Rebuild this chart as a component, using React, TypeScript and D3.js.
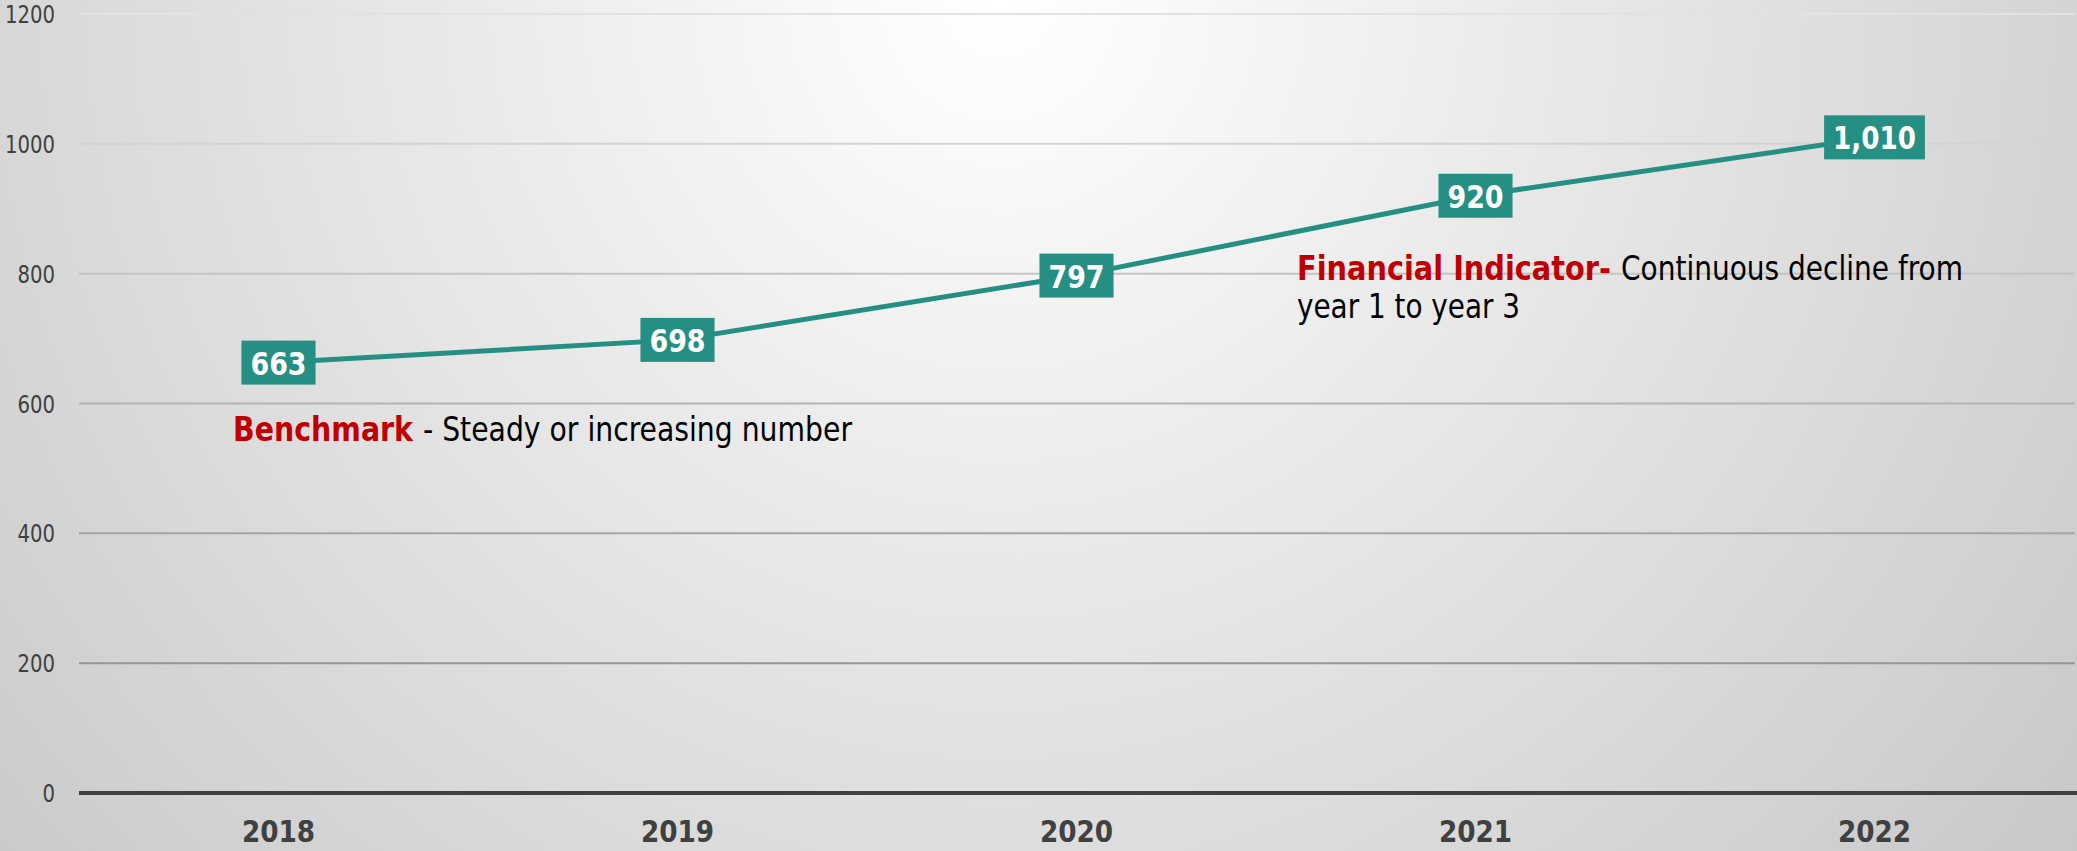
import { useEffect, useRef } from "react";
import * as d3 from "d3";

// chart values
const years = ["2018", "2019", "2020", "2021", "2022"];
const counts = [663, 698, 797, 920, 1010];
const yTicks = [0, 200, 400, 600, 800, 1000, 1200];

const TEAL = "#268f84";
const RED = "#c00000";
const FONT = "'DejaVu Sans Condensed', 'DejaVu Sans', sans-serif";

// rough Tahoma-like widths (px per glyph) to squeeze DejaVu into
const squeeze = (s: string, digit: number, comma: number) =>
    s.split("").reduce((acc, c) => acc + (c === "," ? comma : digit), 0);

export default function App() {
    const svgRef = useRef<SVGSVGElement | null>(null);

    const W = 2077;
    const H = 851;
    const margin = { top: 14, right: 3, bottom: 58, left: 79 };

    useEffect(() => {
        document.body.style.margin = "0";
        const svg = d3.select(svgRef.current);
        svg.selectAll("*").remove();

        // background
        const defs = svg.append("defs");
        const bg = defs.append("radialGradient")
            .attr("id", "bg")
            .attr("gradientUnits", "userSpaceOnUse")
            .attr("cx", 1000).attr("cy", 0).attr("r", 1420);
        bg.append("stop").attr("offset", "0%").attr("stop-color", "#ffffff");
        bg.append("stop").attr("offset", "100%").attr("stop-color", "#c6c6c6");
        svg.append("rect").attr("width", W).attr("height", H).attr("fill", "url(#bg)");

        const xScale = d3.scaleBand<string>()
            .domain(years)
            .range([margin.left, W - margin.right]);
        const yScale = d3.scaleLinear()
            .domain([0, 1200])
            .range([H - margin.bottom, margin.top]);

        // gridlines get darker toward the bottom
        const gridColor = d3.scaleLinear<string>()
            .domain([1200, 200])
            .range(["#e2e2e2", "#969696"]);

        svg.append("g")
            .selectAll("line")
            .data(yTicks.filter(t => t > 0))
            .join("line")
            .attr("x1", margin.left)
            .attr("x2", W - 2)
            .attr("y1", d => yScale(d))
            .attr("y2", d => yScale(d))
            .attr("stroke", d => gridColor(d))
            .attr("stroke-width", 2);

        // zero axis
        svg.append("line")
            .attr("x1", margin.left)
            .attr("x2", W)
            .attr("y1", yScale(0))
            .attr("y2", yScale(0))
            .attr("stroke", "#404040")
            .attr("stroke-width", 4);

        svg.append("g")
            .selectAll("text")
            .data(yTicks)
            .join("text")
            .attr("x", 55)
            .attr("y", d => yScale(d) + 9)
            .attr("text-anchor", "end")
            .attr("font-family", FONT)
            .attr("font-size", 24)
            .attr("textLength", d => squeeze(String(d), 12.5, 6))
            .attr("lengthAdjust", "spacingAndGlyphs")
            .attr("fill", "#404040")
            .text(d => d);

        svg.append("g")
            .selectAll("text")
            .data(years)
            .join("text")
            .attr("x", d => (xScale(d) as number) + xScale.bandwidth() / 2)
            .attr("y", 842)
            .attr("text-anchor", "middle")
            .attr("font-family", FONT)
            .attr("font-weight", "bold")
            .attr("font-size", 31)
            .attr("textLength", d => squeeze(d, 18.3, 8))
            .attr("lengthAdjust", "spacingAndGlyphs")
            .attr("fill", "#404040")
            .text(d => d);

        const pts = years.map((yr, i) => ({ yr, v: counts[i] }));
        const cx = (d: { yr: string }) => (xScale(d.yr) as number) + xScale.bandwidth() / 2;

        const line = d3.line<{ yr: string; v: number }>()
            .x(d => cx(d))
            .y(d => yScale(d.v));

        svg.append("path")
            .datum(pts)
            .attr("fill", "none")
            .attr("stroke", TEAL)
            .attr("stroke-width", 5)
            .attr("d", line);

        // data labels
        const fmt = d3.format(",");
        const lbl = svg.append("g")
            .selectAll("g")
            .data(pts)
            .join("g")
            .attr("transform", d => `translate(${cx(d)},${yScale(d.v)})`);
        lbl.append("rect")
            .attr("fill", TEAL)
            .attr("x", d => -squeeze(fmt(d.v), 18.7, 8) / 2 - 9)
            .attr("y", -22)
            .attr("width", d => squeeze(fmt(d.v), 18.7, 8) + 18)
            .attr("height", 44);
        lbl.append("text")
            .attr("text-anchor", "middle")
            .attr("y", 12)
            .attr("font-family", FONT)
            .attr("font-weight", "bold")
            .attr("font-size", 32)
            .attr("textLength", d => squeeze(fmt(d.v), 18.7, 8))
            .attr("lengthAdjust", "spacingAndGlyphs")
            .attr("fill", "white")
            .text(d => fmt(d.v));

        // annotations
        const note = (x: number, y: number, len: number, txt: string, color: string, bold: boolean) =>
            svg.append("text")
                .attr("x", x)
                .attr("y", y)
                .attr("textLength", len)
                .attr("lengthAdjust", "spacingAndGlyphs")
                .attr("font-family", FONT)
                .attr("font-size", 33)
                .attr("font-weight", bold ? "bold" : "normal")
                .attr("fill", color)
                .text(txt);

        note(233, 441, 180, "Benchmark", RED, true);
        note(423, 441, 429, "- Steady or increasing number", "#000", false);
        note(1297, 280, 314, "Financial Indicator-", RED, true);
        note(1621, 280, 342, "Continuous decline from", "#000", false);
        note(1297, 318, 223, "year 1 to year 3", "#000", false);
    }, []);

    return <svg ref={svgRef} width={W} height={H} style={{ display: "block" }} />;
}
